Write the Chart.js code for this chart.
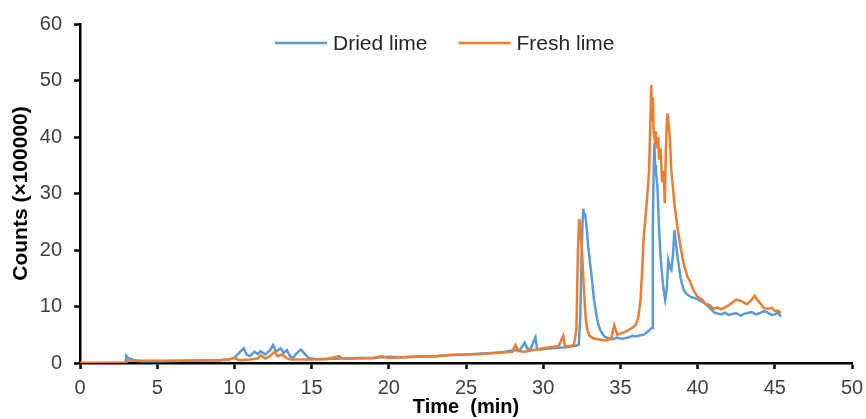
<!DOCTYPE html>
<html>
<head>
<meta charset="utf-8">
<title>Chromatogram</title>
<script src="https://cdn.jsdelivr.net/npm/chart.js@4.4.0/dist/chart.umd.min.js"></script>
<style>
  html, body { margin: 0; padding: 0; background: #ffffff; }
  #wrap { width: 866px; height: 419px; }
</style>
</head>
<body>
<div id="wrap"><canvas id="myChart" width="866" height="419"></canvas></div>
<script>
// series labels
var seriesNames = ["Dried lime", "Fresh lime"];

// Dried lime (time in min, counts x100000)
var driedTime = [0, 2.95, 3.0, 3.1, 3.3, 3.6, 4, 5, 6, 7, 8, 8.5, 9, 9.5, 10, 10.3, 10.6, 10.8, 11.0, 11.3, 11.5, 11.7, 12.0, 12.3, 12.5, 12.7, 13.0, 13.2, 13.4, 13.6, 13.8, 14.0, 14.3, 14.5, 14.8, 15.2, 16, 17, 18, 19, 20, 21, 22, 23, 24, 25, 26, 27, 27.5, 28, 28.5, 28.8, 29.0, 29.2, 29.5, 29.6, 29.8, 30.2, 30.6, 31, 31.5, 32.0, 32.3, 32.4, 32.48, 32.55, 32.6, 32.65, 32.7, 32.8, 32.9, 33.0, 33.15, 33.3, 33.45, 33.55, 33.7, 33.8, 34.0, 34.3, 34.5, 34.8, 35, 35.3, 35.5, 35.8, 36, 36.3, 36.5, 36.7, 36.8, 36.95, 37.05, 37.1, 37.15, 37.2, 37.25, 37.3, 37.4, 37.5, 37.6, 37.75, 37.9, 38.0, 38.1, 38.2, 38.3, 38.4, 38.5, 38.6, 38.7, 38.9, 39.1, 39.3, 39.55, 39.8, 40.0, 40.2, 40.5, 40.8, 41.1, 41.5, 41.8, 42, 42.3, 42.5, 42.8, 43, 43.3, 43.5, 43.8, 44, 44.3, 44.5, 44.8, 45, 45.2, 45.4];
var driedCounts = [0, 0, 1.3, 0.9, 0.7, 0.4, 0.3, 0.3, 0.35, 0.4, 0.45, 0.5, 0.5, 0.6, 0.9, 1.8, 2.6, 1.5, 1.2, 2.0, 1.6, 2.1, 1.5, 2.2, 3.2, 2.0, 2.6, 1.8, 2.3, 1.2, 0.9, 1.6, 2.4, 1.8, 0.9, 0.7, 0.7, 0.8, 0.9, 0.9, 1.1, 1.0, 1.2, 1.2, 1.4, 1.5, 1.7, 1.8, 2.0, 2.2, 2.3, 3.6, 2.4, 2.6, 4.6, 2.5, 2.4, 2.5, 2.6, 2.7, 2.8, 3.0, 3.2, 8, 18, 25, 27.3, 26.2, 26.5, 24.5, 21, 18.5, 15, 11, 8.5, 7, 5.8, 5.3, 4.6, 4.3, 4.2, 4.5, 4.3, 4.4, 4.5, 4.8, 4.7, 4.9, 5.0, 5.4, 5.6, 6.0, 6.2, 25, 33, 38.9, 35, 34, 31, 24, 18.8, 14, 11.2, 13, 18.2, 17, 16.5, 19, 23.5, 21, 18.8, 15, 12.9, 12.2, 11.7, 11.5, 11.3, 11.0, 10.5, 9.7, 8.9, 8.6, 8.9, 8.5, 8.7, 8.8, 8.4, 8.7, 8.9, 9.0, 8.6, 8.8, 9.2, 9.0, 8.5, 8.6, 8.9, 8.2];

// Fresh lime
var freshTime = [0, 3, 3.05, 4, 5, 6, 7, 8, 9, 9.7, 10.0, 10.3, 11, 11.5, 11.7, 12.0, 12.3, 12.6, 12.8, 13.1, 13.4, 13.7, 14, 15, 16, 16.8, 17, 18, 19, 19.5, 20, 21, 22, 23, 24, 25, 26, 27, 27.5, 28.0, 28.2, 28.4, 28.8, 29.2, 29.6, 30, 30.5, 31.0, 31.3, 31.4, 31.8, 32.0, 32.15, 32.25, 32.33, 32.4, 32.45, 32.53, 32.6, 32.68, 32.75, 32.85, 33.0, 33.3, 33.6, 34.0, 34.4, 34.6, 34.8, 35.0, 35.3, 35.5, 35.8, 36.0, 36.15, 36.3, 36.4, 36.5, 36.6, 36.75, 36.86, 36.95, 37.0, 37.05, 37.1, 37.15, 37.25, 37.3, 37.35, 37.45, 37.5, 37.6, 37.7, 37.8, 37.87, 37.95, 38.0, 38.05, 38.1, 38.2, 38.3, 38.37, 38.5, 38.6, 38.75, 38.9, 39.1, 39.35, 39.5, 39.7, 40.0, 40.3, 40.5, 40.8, 41.0, 41.3, 41.5, 41.8, 42, 42.3, 42.5, 42.8, 43.0, 43.2, 43.5, 43.7, 43.9, 44, 44.3, 44.6, 44.8, 45, 45.2, 45.4];
var freshCounts = [0, 0.1, 0.5, 0.4, 0.4, 0.4, 0.45, 0.5, 0.5, 0.6, 0.9, 0.5, 0.6, 0.8, 1.4, 0.8, 1.2, 2.0, 1.2, 1.5, 0.8, 0.6, 0.6, 0.6, 0.7, 1.2, 0.7, 0.8, 0.9, 1.2, 0.9, 1.0, 1.1, 1.2, 1.4, 1.5, 1.6, 1.8, 1.9, 2.0, 3.2, 2.1, 2.0, 2.2, 2.4, 2.6, 2.8, 3.0, 4.8, 3.0, 3.0, 3.3, 6, 20, 25.5, 24, 22, 18.8, 15, 11, 8, 6, 4.8, 4.3, 4.2, 4.0, 4.3, 6.7, 5.0, 5.2, 5.5, 5.8, 6.3, 6.8, 8.0, 11, 16, 22, 25, 30, 34, 44, 49.2, 43, 47, 41, 39, 41, 38, 40, 36, 38, 32, 34, 28.3, 38, 42, 44.2, 43, 40, 34, 32, 28, 26, 23, 20.5, 17.5, 15.2, 14.5, 13, 11.7, 11.2, 10.5, 10.2, 9.6, 9.8, 9.5, 9.9, 10.2, 10.8, 11.2, 11.0, 10.7, 10.4, 11.2, 11.9, 11.0, 10.8, 9.7, 9.6, 9.8, 9.2, 9.3, 8.9];

// axis ranges
var xMax = 50, xStep = 5;
var yMax = 60, yStep = 10;

function toPoints(xs, ys) {
  return xs.map(function (x, i) { return { x: x, y: ys[i] }; });
}

var fontFamily = "'Liberation Sans', Arial, sans-serif";

// legend drawn inside the plot area, like the original
var insideLegend = {
  id: 'insideLegend',
  afterDraw: function (chart) {
    var ctx = chart.ctx;
    var area = chart.chartArea;
    var x = area.left + 195;
    var y = area.top + 19;
    ctx.save();
    ctx.font = "21px " + fontFamily;
    ctx.textBaseline = 'middle';
    chart.data.datasets.forEach(function (ds) {
      ctx.strokeStyle = ds.borderColor;
      ctx.lineWidth = 2.5;
      ctx.beginPath();
      ctx.moveTo(x, y);
      ctx.lineTo(x + 52, y);
      ctx.stroke();
      ctx.fillStyle = '#262626';
      ctx.fillText(ds.label, x + 58, y + 1);
      x += 58 + ctx.measureText(ds.label).width + 31;
    });
    ctx.restore();
  }
};

var ctx = document.getElementById("myChart");
var chart = new Chart(ctx, {
  type: 'line',
  data: {
    datasets: [{
      label: seriesNames[0],
      data: toPoints(driedTime, driedCounts),
      borderColor: '#5B9BD5',
      borderWidth: 2.5,
      pointRadius: 0,
      tension: 0,
      order: 1
    }, {
      label: seriesNames[1],
      data: toPoints(freshTime, freshCounts),
      borderColor: '#ED7D31',
      borderWidth: 2.5,
      pointRadius: 0,
      tension: 0,
      order: 0
    }]
  },
  options: {
    responsive: false,
    animation: false,
    layout: { padding: { top: 24, right: 14, left: 0, bottom: 0 } },
    plugins: {
      legend: { display: false },
      tooltip: { enabled: false }
    },
    scales: {
      x: {
        type: 'linear',
        min: 0,
        max: xMax,
        ticks: { stepSize: xStep, color: '#404040', font: { family: fontFamily, size: 20 }, padding: 7, maxRotation: 0 },
        grid: { drawOnChartArea: false, drawTicks: true, tickLength: 6, tickColor: '#000', tickWidth: 2.5 },
        border: { color: '#000', width: 2.5 },
        title: { display: true, text: 'Time  (min)', color: '#000', font: { family: fontFamily, size: 20, weight: 'bold' }, padding: { top: 0, bottom: 0 } },
        afterFit: function (scale) { scale.height = 56; scale.paddingRight = 14; }
      },
      y: {
        min: 0,
        max: yMax,
        ticks: { stepSize: yStep, color: '#404040', font: { family: fontFamily, size: 20 }, padding: 12 },
        grid: { drawOnChartArea: false, drawTicks: true, tickLength: 6, tickColor: '#000', tickWidth: 2.5 },
        border: { color: '#000', width: 2.5 },
        title: { display: true, text: 'Counts (×100000)', color: '#000', font: { family: fontFamily, size: 21, weight: 'bold' }, padding: { top: 9, bottom: 0 } },
        afterFit: function (scale) { scale.width = 80; }
      }
    }
  },
  plugins: [insideLegend]
});
</script>
</body>
</html>
